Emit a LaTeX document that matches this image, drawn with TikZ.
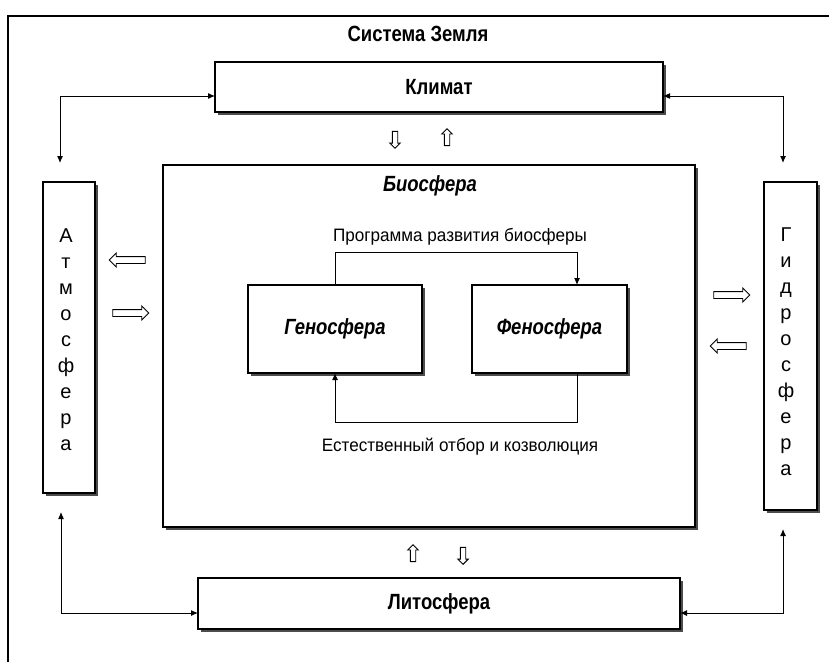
\documentclass[tikz,border=0pt]{standalone}
\usepackage{fontspec}
\setmainfont{Liberation Sans}
\newfontfamily\narfont{Liberation Sans}[FakeStretch=0.84]
\newfontfamily\regfont{Liberation Sans}[FakeStretch=0.95]
\usetikzlibrary{arrows.meta,shapes.arrows,shadows}
\tikzset{
  box/.style={draw=black, line width=1.3pt, fill=white, inner sep=0pt,
    drop shadow={shadow xshift=3pt, shadow yshift=-3pt, fill=black!70, opacity=1}},
  titlefont/.style={font=\narfont\bfseries\fontsize{22}{26}\selectfont},
  itfont/.style={font=\narfont\bfseries\itshape\fontsize{22}{26}\selectfont},
  labfont/.style={font=\regfont\fontsize{18}{22}\selectfont},
  vertfont/.style={font=\fontsize{20}{26}\selectfont, align=center, inner sep=0pt},
  conn/.style={line width=1pt, -{Latex[length=7pt,width=6pt]}},
  bconn/.style={line width=1pt, {Latex[length=7pt,width=6pt]}-{Latex[length=7pt,width=6pt]}},
  harrow/.style={single arrow, draw=black, fill=white, line width=0.9pt, inner sep=0pt,
    minimum height=36pt, single arrow head extend=3.5pt},
  varrow/.style={single arrow, draw=black, fill=white, line width=0.9pt, inner sep=0pt,
    minimum height=17pt, single arrow head extend=2.6pt}
}
\begin{document}
\begin{tikzpicture}[x=1pt,y=-1pt]
\useasboundingbox (0,0) rectangle (829,661);
% outer frame
\draw[line width=1.3pt] (840,16) -- (8,16) -- (8,670);
\node[titlefont] (title) at (418,34) {Система Земля};
% main boxes
\node[box, minimum width=448pt, minimum height=50pt] (klimat) at (439,87) {};
\node[titlefont] (klimatT) at (klimat.center) {Климат};
\node[box, minimum width=52pt, minimum height=311pt] (atmo) at (69,337.5) {};
\node[vertfont] (atmoT) at (66,340) {А\\т\\м\\о\\с\\ф\\е\\р\\а};
\node[box, minimum width=53pt, minimum height=328pt] (gidro) at (790.5,346) {};
\node[vertfont] (gidroT) at (786,352) {Г\\и\\д\\р\\о\\с\\ф\\е\\р\\а};
\node[box, minimum width=532pt, minimum height=362pt] (bio) at (429,346) {};
\node[itfont] (bioT) at (430,186) {Биосфера};
\node[box, minimum width=482pt, minimum height=51pt] (lito) at (439,603.5) {};
\node[titlefont] (litoT) at (lito.center) {Литосфера};
% inner boxes
\node[box, minimum width=174pt, minimum height=88pt] (geno) at (335,329) {};
\node[itfont] (genoT) at (geno.center) {Геносфера};
\node[box, minimum width=155pt, minimum height=88pt] (feno) at (549.5,329) {};
\node[itfont] (fenoT) at (feno.center) {Феносфера};
\node[labfont] (prog) at (460,237) {Программа развития биосферы};
\node[labfont] (otbor) at (460,447) {Естественный отбор и козволюция};
% inner connectors
\coordinate (g1) at (335,285);
\coordinate (f1) at (577,285);
\coordinate (g2) at (335,373);
\coordinate (f2) at (577,373);
\draw[conn] (g1) -- (335,252) -- (577,252) -- (f1);
\draw[conn] (f2) -- (577,422) -- (335,422) -- (g2);
% outer connectors
\coordinate (kL) at (215,96);
\coordinate (kR) at (663,96);
\coordinate (aTop) at (60,163);
\coordinate (gTop) at (783,163);
\coordinate (lL) at (198,613);
\coordinate (lR) at (680,613);
\coordinate (aBot) at (61,512);
\coordinate (gBot) at (783,529);
\draw[bconn] (kL) -- (60,96) -- (aTop);
\draw[bconn] (kR) -- (783,96) -- (gTop);
\draw[bconn] (lL) -- (61,613) -- (aBot);
\draw[bconn] (lR) -- (783,613) -- (gBot);
% hollow arrows
\node[varrow, shape border rotate=270] (kd) at (395,138.5) {\rule{4.5pt}{0pt}};
\node[varrow, shape border rotate=90] (ku) at (447,138.5) {\rule{4.5pt}{0pt}};
\node[varrow, shape border rotate=90] (lu) at (413,554.5) {\rule{4.5pt}{0pt}};
\node[varrow, shape border rotate=270] (ld) at (463,554.5) {\rule{4.5pt}{0pt}};
\node[harrow, shape border rotate=180] (al) at (129,260) {\rule{0pt}{6pt}};
\node[harrow] (ar) at (129,313) {\rule{0pt}{6pt}};
\node[harrow] (gr) at (730,295) {\rule{0pt}{6pt}};
\node[harrow, shape border rotate=180] (gl) at (730,346) {\rule{0pt}{6pt}};
\end{tikzpicture}
\end{document}
